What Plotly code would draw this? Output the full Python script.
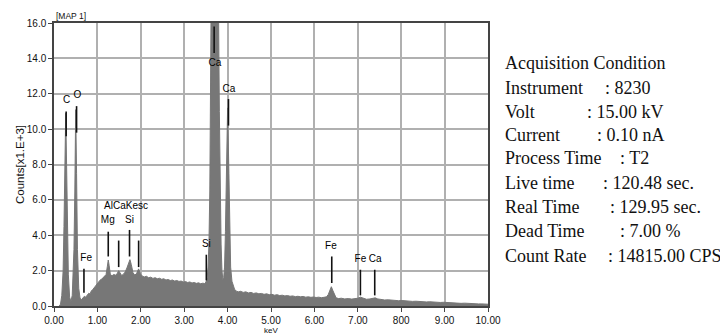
import plotly.graph_objects as go

# ---------------- data ----------------
energy_kev = [0.12, 0.15, 0.18, 0.21, 0.23, 0.25, 0.27, 0.29, 0.31, 0.33, 0.36, 0.39, 0.42, 0.44,
              0.46, 0.48, 0.50, 0.52, 0.54, 0.57, 0.60, 0.63, 0.66, 0.70, 0.73, 0.76, 0.80, 0.83,
              0.86, 0.90, 0.93, 0.96, 1.00, 1.03, 1.06, 1.10, 1.13, 1.16, 1.20, 1.23, 1.25, 1.27,
              1.30, 1.34, 1.38, 1.42, 1.46, 1.49, 1.52, 1.56, 1.60, 1.64, 1.68, 1.72, 1.75, 1.78,
              1.82, 1.86, 1.90, 1.95, 1.99, 2.03, 2.08, 2.13, 2.18, 2.23, 2.28, 2.33, 2.38, 2.43,
              2.48, 2.53, 2.58, 2.63, 2.68, 2.73, 2.78, 2.83, 2.88, 2.93, 2.98, 3.03, 3.08, 3.13,
              3.18, 3.23, 3.28, 3.33, 3.38, 3.43, 3.47, 3.50, 3.53, 3.55, 3.57, 3.59, 3.605, 3.62,
              3.70, 3.79, 3.81, 3.83, 3.85, 3.87, 3.89, 3.91, 3.93, 3.95, 3.97, 4.00, 4.03, 4.05,
              4.07, 4.10, 4.13, 4.16, 4.20, 4.25, 4.30, 4.36, 4.42, 4.48, 4.54, 4.60, 4.66, 4.72,
              4.78, 4.84, 4.90, 4.96, 5.02, 5.08, 5.14, 5.20, 5.26, 5.32, 5.38, 5.44, 5.50, 5.56,
              5.62, 5.68, 5.74, 5.80, 5.86, 5.92, 5.98, 6.04, 6.10, 6.16, 6.22, 6.28, 6.32, 6.36,
              6.39, 6.42, 6.46, 6.50, 6.56, 6.62, 6.70, 6.78, 6.86, 6.94, 7.00, 7.06, 7.12, 7.20,
              7.28, 7.34, 7.40, 7.46, 7.54, 7.62, 7.70, 7.78, 7.86, 7.94, 8.02, 8.10, 8.18, 8.26,
              8.34, 8.42, 8.50, 8.58, 8.66, 8.74, 8.82, 8.90, 8.98, 9.06, 9.14, 9.22, 9.30, 9.38,
              9.46, 9.54, 9.62, 9.70, 9.78, 9.86, 9.94, 10.00]
counts_k = [0.0, 0.1, 0.6, 2.0, 4.5, 8.0, 10.9, 8.0, 4.2, 1.8, 0.5, 0.25, 0.6, 1.6,
            3.2, 6.5, 11.1, 7.5, 3.2, 1.0, 0.45, 0.35, 0.42, 0.55, 0.5, 0.62, 0.72, 0.68,
            0.85, 0.95, 1.05, 1.12, 1.28, 1.34, 1.46, 1.52, 1.60, 1.66, 1.78, 2.25, 2.6, 2.3,
            1.75, 1.72, 1.78, 1.74, 1.85, 2.0, 1.85, 1.72, 1.80, 1.92, 2.15, 2.50, 2.62, 2.35,
            1.88, 1.75, 1.82, 2.10, 1.82, 1.70, 1.64, 1.68, 1.60, 1.63, 1.56, 1.60, 1.54, 1.57,
            1.51, 1.54, 1.47, 1.50, 1.44, 1.47, 1.41, 1.44, 1.39, 1.41, 1.35, 1.38, 1.33, 1.36,
            1.30, 1.33, 1.28, 1.31, 1.26, 1.29, 1.27, 1.35, 1.6, 2.2, 3.5, 6.5, 11.0, 17.0,
            30.0, 17.0, 11.0, 6.5, 3.5, 2.0, 1.5, 1.6, 2.2, 4.2, 7.5, 11.2, 7.5, 4.0,
            2.2, 1.4, 1.1, 0.95, 0.84, 0.80, 0.83, 0.77, 0.80, 0.74, 0.77, 0.71, 0.74, 0.69,
            0.71, 0.66, 0.69, 0.64, 0.66, 0.61, 0.64, 0.59, 0.61, 0.57, 0.59, 0.55, 0.57, 0.53,
            0.55, 0.52, 0.54, 0.50, 0.52, 0.49, 0.51, 0.48, 0.50, 0.47, 0.49, 0.52, 0.65, 0.90,
            1.09, 0.90, 0.62, 0.46, 0.42, 0.44, 0.40, 0.42, 0.39, 0.41, 0.44, 0.50, 0.44, 0.38,
            0.40, 0.44, 0.46, 0.40, 0.36, 0.34, 0.35, 0.32, 0.33, 0.30, 0.31, 0.28, 0.29, 0.26,
            0.27, 0.25, 0.26, 0.23, 0.24, 0.22, 0.23, 0.20, 0.21, 0.19, 0.19, 0.17, 0.17, 0.15,
            0.16, 0.14, 0.14, 0.13, 0.12, 0.12, 0.11, 0.10]

# peak marker lines (keV, from/to counts x1E3)
peak_energy = [0.28, 0.52, 0.69, 1.25, 1.49, 1.74, 1.95, 3.51, 3.69, 4.02, 6.40, 7.06, 7.39]
peak_line_top = [11.0, 11.3, 2.1, 4.2, 3.7, 4.3, 3.7, 2.9, 15.8, 11.7, 2.8, 2.05, 2.05]
peak_line_bottom = [9.6, 9.8, 0.75, 2.8, 2.2, 2.8, 2.2, 1.45, 14.3, 10.2, 1.3, 0.6, 0.6]

# peak labels
label_text = ["C", "O", "Fe", "Mg", "AlCaKesc", "Si", "Si", "Ca", "Ca", "Fe", "Fe", "Ca"]
label_energy = [0.29, 0.54, 0.74, 1.24, 1.66, 1.74, 3.51, 3.71, 4.03, 6.38, 7.06, 7.40]
label_count = [11.6, 11.9, 2.7, 4.85, 5.6, 4.85, 3.45, 13.7, 12.25, 3.35, 2.65, 2.65]

# axis ticks
x_tickvals = [0, 1, 2, 3, 4, 5, 6, 7, 8, 9, 10]
x_ticktext = ["0.00", "1.00", "2.00", "3.00", "4.00", "5.00", "6.00", "7.00", "800", "9.00", "10.00"]
y_tickvals = [0, 2, 4, 6, 8, 10, 12, 14, 16]
y_ticktext = ["0.0", "2.0", "4.0", "6.0", "8.0", "10.0", "12.0", "14.0", "16.0"]

# acquisition condition text block
cond_labels = ["Acquisition Condition", "Instrument", "Volt", "Current", "Process Time",
               "Live time", "Real Time", "Dead Time", "Count Rate"]
cond_values = ["", ": 8230", ": 15.00 kV", ": 0.10 nA", ": T2",
               ": 120.48 sec.", ": 129.95 sec.", ": 7.00 %", ": 14815.00 CPS"]
# layout positions in window pixels
cond_value_px = [0, 603, 585, 595, 618, 601, 608, 618, 606]
cond_line_px = [63, 88, 112, 135, 158, 183, 207, 231, 256]

# ---------------- figure ----------------
OFF = 8  # page body margin
W, H = 720, 327
ML, MR, MT, MB = 46, 240, 15, 29
SANS = "Liberation Sans, Arial"
SERIF = "Liberation Serif, Times New Roman"

fig = go.Figure()

fig.add_trace(go.Scatter(
    x=energy_kev, y=counts_k, mode="lines", fill="tozeroy",
    line=dict(color="#777777", width=1), fillcolor="#777777",
    hoverinfo="skip", showlegend=False))

mx, my = [], []
for e, t, b in zip(peak_energy, peak_line_top, peak_line_bottom):
    mx += [e, e, None]
    my += [b, t, None]
fig.add_trace(go.Scatter(x=mx, y=my, mode="lines",
                         line=dict(color="#111111", width=1.6),
                         hoverinfo="skip", showlegend=False))

fig.add_trace(go.Scatter(x=label_energy, y=label_count, mode="text", text=label_text,
                         textfont=dict(family=SANS, size=10, color="#000000"),
                         textposition="middle center", hoverinfo="skip", showlegend=False))

fig.update_xaxes(range=[0, 10], tickvals=x_tickvals, ticktext=x_ticktext,
                 showgrid=True, gridcolor="#b0b0b0", gridwidth=1.5,
                 showline=True, linecolor="#444444", linewidth=1.5, mirror=True,
                 ticks="outside", ticklen=4, tickcolor="#444444",
                 tickfont=dict(family=SANS, size=10, color="#111111"),
                 title=dict(text="keV", font=dict(family=SANS, size=8, color="#111111"),
                            standoff=0),
                 zeroline=False, automargin=False)
fig.update_yaxes(range=[0, 16], tickvals=y_tickvals, ticktext=y_ticktext,
                 showgrid=True, gridcolor="#b0b0b0", gridwidth=1.5,
                 showline=True, linecolor="#444444", linewidth=1.5, mirror=True,
                 ticks="outside", ticklen=4, tickcolor="#444444",
                 tickfont=dict(family=SANS, size=10, color="#111111"),
                 title=dict(text="Counts[x1.E+3]", font=dict(family=SANS, size=11.5, color="#111111"),
                            standoff=0),
                 zeroline=False, automargin=False)

annotations = [dict(text="[MAP 1]", x=0, y=1.0, xref="paper", yref="paper",
                    xanchor="left", yanchor="bottom", showarrow=False,
                    font=dict(family=SANS, size=8.5, color="#111111"))]

pw = W - ML - MR
ph = H - MT - MB
for i, (lab, val) in enumerate(zip(cond_labels, cond_values)):
    yp = 1 - (cond_line_px[i] - OFF - MT) / ph
    annotations.append(dict(text=lab, x=(503 - OFF - ML) / pw, y=yp, xref="paper", yref="paper",
                            xanchor="left", yanchor="middle", showarrow=False,
                            font=dict(family=SERIF, size=18, color="#111111")))
    if val:
        annotations.append(dict(text=val, x=(cond_value_px[i] - OFF - ML) / pw, y=yp,
                                xref="paper", yref="paper",
                                xanchor="left", yanchor="middle", showarrow=False,
                                font=dict(family=SERIF, size=18, color="#111111")))

fig.update_layout(width=W, height=H, margin=dict(l=ML, r=MR, t=MT, b=MB, autoexpand=False),
                  paper_bgcolor="white", plot_bgcolor="white",
                  annotations=annotations, showlegend=False)

fig.write_html("out.html")
